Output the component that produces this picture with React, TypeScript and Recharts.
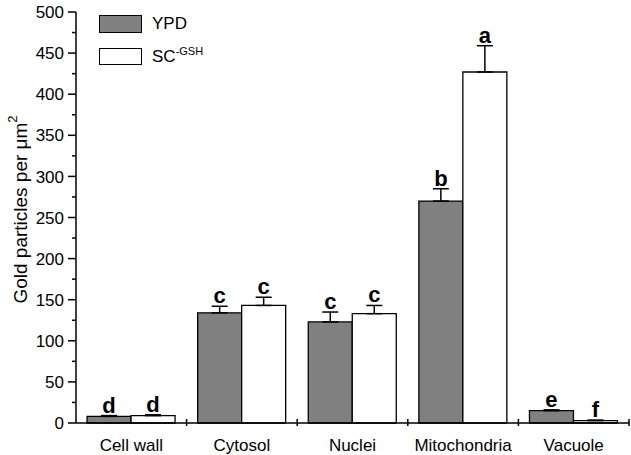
import React from 'react';
import { BarChart, Bar, XAxis, YAxis, ErrorBar, LabelList } from 'recharts';

const categories = ['Cell wall', 'Cytosol', 'Nuclei', 'Mitochondria', 'Vacuole'];
const ypdValues = [8, 134, 123, 270, 15];
const ypdErrors = [1, 8, 12, 15, 1];
const ypdLetters = ['d', 'c', 'c', 'b', 'e'];
const scValues = [9, 143, 133, 427, 3];
const scErrors = [1, 10, 10, 32, 0.5];
const scLetters = ['d', 'c', 'c', 'a', 'f'];
const yTicks = [0, 25, 50, 75, 100, 125, 150, 175, 200, 225, 250, 275, 300, 325, 350, 375, 400, 425, 450, 475, 500];

const data = categories.map((name, i) => ({
  name,
  ypd: ypdValues[i],
  ypdErr: [0, ypdErrors[i]],
  sc: scValues[i],
  scErr: [0, scErrors[i]],
}));

const FONT = '"Liberation Sans", Arial, Helvetica, sans-serif';

function YTick(props: any) {
  const { x, y, payload } = props;
  const major = payload.value % 50 === 0;
  const right = x + 12;
  return (
    <g>
      <line x1={major ? right - 8 : right - 4} x2={right} y1={y} y2={y} stroke="#000" strokeWidth={1.5} />
      {major && (
        <text x={x} y={y} dy="0.36em" textAnchor="end" fontSize={17} fill="#000" fontFamily={FONT}>
          {payload.value}
        </text>
      )}
    </g>
  );
}

function XTick(props: any) {
  const { x, y, payload } = props;
  const half = payload.offset ?? 55.3;
  return (
    <g>
      <line x1={x + half} x2={x + half} y1={y - 4} y2={y + 3} stroke="#000" strokeWidth={1.5} />
      <text x={x} y={y + 28} textAnchor="middle" fontSize={17} fill="#000" fontFamily={FONT}>
        {payload.value}
      </text>
    </g>
  );
}

function makeLetter(errors: number[], letters: string[]) {
  return (props: any) => {
    const { x, y, width, height, index, value } = props;
    const perUnit = value ? height / value : 0;
    const capY = y - errors[index] * perUnit;
    return (
      <text x={x + width / 2} y={capY - 3} textAnchor="middle" fontSize={22} fontWeight="bold" fill="#000" fontFamily={FONT}>
        {letters[index]}
      </text>
    );
  };
}

function YLabel(props: any) {
  const { viewBox } = props;
  const cx = viewBox.x + 20;
  const cy = viewBox.y + viewBox.height / 2 - 8;
  return (
    <text x={cx} y={cy} transform={`rotate(-90, ${cx}, ${cy})`} textAnchor="middle" dominantBaseline="central" fontSize={19} fill="#000" fontFamily={FONT}>
      Gold particles per μm
      <tspan fontSize={13} dy={-8}>2</tspan>
    </text>
  );
}

export default function App() {
  return (
    <div style={{ position: 'absolute', left: 0, top: 0, width: 631, height: 455, background: '#fff' }}>
      <BarChart
        width={631}
        height={455}
        data={data}
        margin={{ top: 12, right: 2, left: 0, bottom: 0 }}
        barCategoryGap="10%"
        barGap={0}
      >
        <XAxis
          dataKey="name"
          height={32}
          tickLine={false}
          tickSize={0}
          tickMargin={0}
          axisLine={{ stroke: '#000', strokeWidth: 1.5 }}
          tick={<XTick />}
          interval={0}
        />
        <YAxis
          width={76}
          domain={[0, 500]}
          ticks={yTicks}
          interval={0}
          tickLine={false}
          tickSize={8}
          tickMargin={4}
          axisLine={{ stroke: '#000', strokeWidth: 1.5 }}
          tick={<YTick />}
          label={<YLabel />}
        />
        <Bar dataKey="ypd" fill="#808080" stroke="#000" strokeWidth={1.3} isAnimationActive={false}>
          <ErrorBar dataKey="ypdErr" width={8} stroke="#000" strokeWidth={1.5} direction="y" />
          <LabelList dataKey="ypd" content={makeLetter(ypdErrors, ypdLetters)} />
        </Bar>
        <Bar dataKey="sc" fill="#fff" stroke="#000" strokeWidth={1.3} isAnimationActive={false}>
          <ErrorBar dataKey="scErr" width={8} stroke="#000" strokeWidth={1.5} direction="y" />
          <LabelList dataKey="sc" content={makeLetter(scErrors, scLetters)} />
        </Bar>
      </BarChart>
      <div style={{ position: 'absolute', left: 99, top: 15, fontFamily: FONT, fontSize: 17, color: '#000' }}>
        <div style={{ display: 'flex', alignItems: 'center', height: 18, marginBottom: 14 }}>
          <div style={{ width: 41, height: 16, background: '#808080', border: '1.3px solid #000' }} />
          <span style={{ marginLeft: 10 }}>YPD</span>
        </div>
        <div style={{ display: 'flex', alignItems: 'center', height: 18 }}>
          <div style={{ width: 41, height: 15, background: '#fff', border: '1.3px solid #000' }} />
          <span style={{ marginLeft: 10 }}>
            SC<sup style={{ fontSize: 11 }}>-GSH</sup>
          </span>
        </div>
      </div>
    </div>
  );
}
